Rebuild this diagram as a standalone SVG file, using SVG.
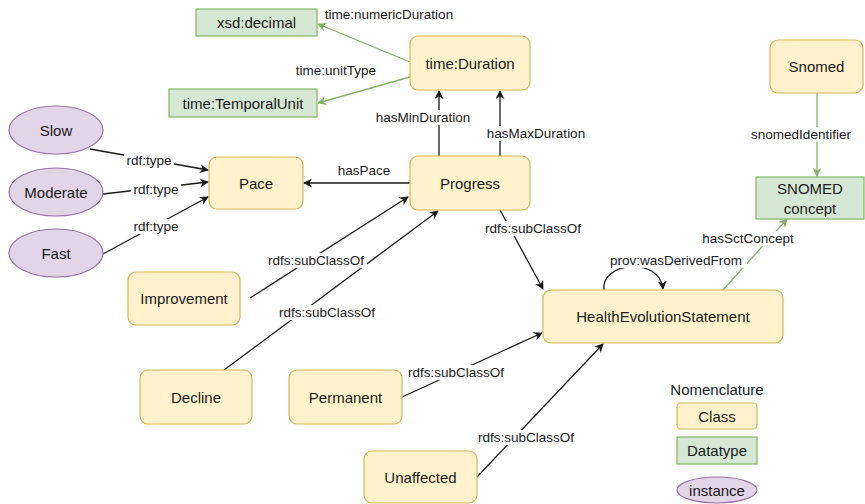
<svg xmlns="http://www.w3.org/2000/svg" width="865" height="504" viewBox="0 0 865 504">
<style>
text{font-family:"Liberation Sans",Arial,sans-serif;fill:#1a1a1a}
.n{font-size:15px;text-anchor:middle;dominant-baseline:central}
.l{font-size:13.5px;text-anchor:middle;dominant-baseline:central}
.cls{fill:#fff2cc;stroke:#d6b656;stroke-width:1.2}
.dt{fill:#d5e8d4;stroke:#82b366;stroke-width:1.2}
.ins{fill:#e1d5e7;stroke:#9673a6;stroke-width:1.2}
.e{fill:none;stroke:#1a1a1a;stroke-width:1.3}
.g{fill:none;stroke:#82b366;stroke-width:1.3}
.bg{fill:#fff}
</style>
<defs>
<marker id="ab" viewBox="0 0 10 10" refX="9" refY="5" markerWidth="9" markerHeight="9" markerUnits="userSpaceOnUse" orient="auto"><path d="M0,0 L10,5 L0,10 L3,5 z" fill="#1a1a1a"/></marker>
<marker id="ag" viewBox="0 0 10 10" refX="9" refY="5" markerWidth="9" markerHeight="9" markerUnits="userSpaceOnUse" orient="auto"><path d="M0,0 L10,5 L0,10 L3,5 z" fill="#82b366"/></marker>
</defs>
<g id="connectors">
<path class="g" d="M410,62 L318,24" marker-end="url(#ag)"/>
<path class="g" d="M410,77 L318,103" marker-end="url(#ag)"/>
<path class="e" d="M439,156 L439,91" marker-end="url(#ab)"/>
<path class="e" d="M500,156 L500,91" marker-end="url(#ab)"/>
<path class="e" d="M410,183 L304,183" marker-end="url(#ab)"/>
<path class="e" d="M90,149 L208,170" marker-end="url(#ab)"/>
<path class="e" d="M103,194 L208,182" marker-end="url(#ab)"/>
<path class="e" d="M103,254 L208,197" marker-end="url(#ab)"/>
<path class="e" d="M250,298 L408,197" marker-end="url(#ab)"/>
<path class="e" d="M224,370 L438,211" marker-end="url(#ab)"/>
<path class="e" d="M500,210 L543,289" marker-end="url(#ab)"/>
<path class="e" d="M402,397 L542,333" marker-end="url(#ab)"/>
<path class="e" d="M477,477 L603,344" marker-end="url(#ab)"/>
<path class="e" d="M604,290 C600,262 660,256 663,289" marker-end="url(#ab)"/>
<path class="g" d="M817,93 L817,176" marker-end="url(#ag)"/>
<path class="g" d="M723,290 L787,219" marker-end="url(#ag)"/>
<g>
<text class="l" x="389" y="14">time:numericDuration</text>
<text class="l" x="336" y="70">time:unitType</text>
<rect class="bg" x="371" y="110" width="104" height="15"/>
<text class="l" x="423" y="117">hasMinDuration</text>
<rect class="bg" x="483" y="126" width="106" height="15"/>
<text class="l" x="536" y="133">hasMaxDuration</text>
<text class="l" x="364" y="170">hasPace</text>
<rect class="bg" x="124" y="153" width="50" height="15"/>
<text class="l" x="149" y="160">rdf:type</text>
<rect class="bg" x="131" y="182" width="50" height="15"/>
<text class="l" x="156" y="189">rdf:type</text>
<rect class="bg" x="131" y="219" width="50" height="15"/>
<text class="l" x="156" y="226">rdf:type</text>
<rect class="bg" x="265" y="253" width="102" height="15"/>
<text class="l" x="316" y="260">rdfs:subClassOf</text>
<rect class="bg" x="276" y="305" width="102" height="15"/>
<text class="l" x="327" y="312">rdfs:subClassOf</text>
<rect class="bg" x="482" y="221" width="102" height="15"/>
<text class="l" x="533" y="228">rdfs:subClassOf</text>
<rect class="bg" x="405" y="365" width="102" height="15"/>
<text class="l" x="456" y="372">rdfs:subClassOf</text>
<rect class="bg" x="475" y="430" width="102" height="15"/>
<text class="l" x="526" y="437">rdfs:subClassOf</text>
<rect class="bg" x="605" y="253" width="142" height="15"/>
<text class="l" x="676" y="260">prov:wasDerivedFrom</text>
<rect class="bg" x="698" y="231" width="100" height="15"/>
<text class="l" x="748" y="238">hasSctConcept</text>
<rect class="bg" x="747" y="127" width="108" height="15"/>
<text class="l" x="801" y="134">snomedIdentifier</text>
</g>
</g>
<g id="xsd-decimal"><rect class="dt" x="196" y="9" width="121" height="27"/><text class="n" x="256.5" y="22.5">xsd:decimal</text></g>
<g id="time-TemporalUnit"><rect class="dt" x="169" y="89" width="148" height="28"/><text class="n" x="243" y="103">time:TemporalUnit</text></g>
<g id="time-Duration"><rect class="cls" x="410" y="36" width="120" height="54" rx="8"/><text class="n" x="470" y="63">time:Duration</text></g>
<g id="Progress"><rect class="cls" x="410" y="156" width="120" height="54" rx="8"/><text class="n" x="470" y="183">Progress</text></g>
<g id="Pace"><rect class="cls" x="209" y="157" width="94" height="52" rx="8"/><text class="n" x="256" y="183">Pace</text></g>
<g id="Slow"><ellipse class="ins" cx="56" cy="130" rx="47" ry="24"/><text class="n" x="56" y="130">Slow</text></g>
<g id="Moderate"><ellipse class="ins" cx="56" cy="192" rx="47" ry="24"/><text class="n" x="56" y="192">Moderate</text></g>
<g id="Fast"><ellipse class="ins" cx="56" cy="253" rx="47" ry="24"/><text class="n" x="56" y="253">Fast</text></g>
<g id="Improvement"><rect class="cls" x="128" y="272" width="112" height="53" rx="8"/><text class="n" x="184" y="298">Improvement</text></g>
<g id="Decline"><rect class="cls" x="140" y="370" width="112" height="54" rx="8"/><text class="n" x="196" y="397">Decline</text></g>
<g id="Permanent"><rect class="cls" x="289" y="370" width="113" height="54" rx="8"/><text class="n" x="345.5" y="397">Permanent</text></g>
<g id="Unaffected"><rect class="cls" x="364" y="451" width="113" height="52" rx="8"/><text class="n" x="420.5" y="477">Unaffected</text></g>
<g id="HealthEvolutionStatement"><rect class="cls" x="543" y="290" width="240" height="53" rx="8"/><text class="n" x="663" y="316.5">HealthEvolutionStatement</text></g>
<g id="Snomed"><rect class="cls" x="770" y="40" width="93" height="53" rx="8"/><text class="n" x="816.5" y="66.5">Snomed</text></g>
<g id="SNOMED-concept"><rect class="dt" x="756" y="177" width="108" height="42"/><text class="n" x="810" y="188">SNOMED</text><text class="n" x="810" y="208">concept</text></g>
<g id="legend">
<text class="n" x="717" y="389">Nomenclature</text>
<rect class="cls" x="677" y="403" width="80" height="26" rx="4"/><text class="n" x="717" y="416">Class</text>
<rect class="dt" x="677" y="437" width="80" height="27"/><text class="n" x="717" y="450.5">Datatype</text>
<ellipse class="ins" cx="717" cy="490" rx="40" ry="13"/><text class="n" x="717" y="490">instance</text>
</g>
</svg>
